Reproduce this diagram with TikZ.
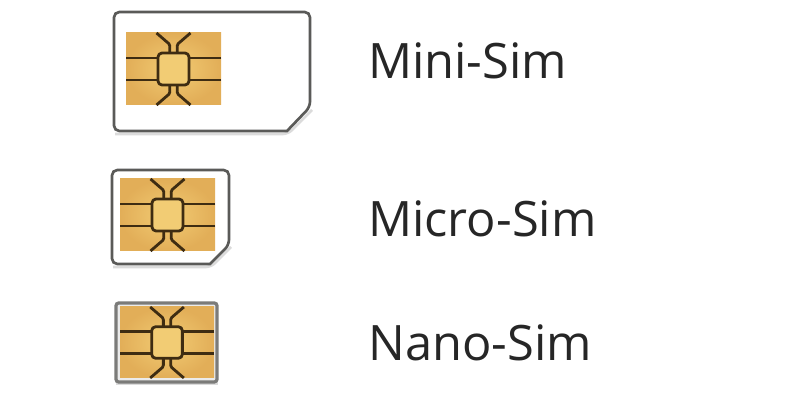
\documentclass[tikz,border=0pt]{standalone}
\usepackage{fontspec}
\setmainfont{Open Sans}
\definecolor{goldmid}{HTML}{F2CC74}
\definecolor{goldedge}{HTML}{E2AE58}
\definecolor{chipline}{HTML}{3E2C12}
\definecolor{cardline}{HTML}{5A5A58}
\tikzset{
  card/.style={draw=cardline,line width=2pt,fill=white,rounded corners=4pt},
  cardshadow/.style={draw=black!14,line width=2pt,rounded corners=4pt},
  simlabel/.style={anchor=west,inner sep=0pt,font=\fontsize{36.6pt}{40pt}\selectfont,text=black!85},
  contact/.style={draw=chipline,line width=2.1pt,line cap=butt,line join=round},
  pics/simchip/.style={code={
    \shade[inner color=goldmid,outer color=goldedge] (0,0) rectangle (95,72);
    \draw[contact] (0,25) -- (32,25) (0,47) -- (32,47) (95,25) -- (63,25) (95,47) -- (63,47);
    \draw[contact,rounded corners=1pt] (30.5,0) -- (43.8,11.5) -- (43.8,22) (64.5,0) -- (51.2,11.5) -- (51.2,22);
    \draw[contact,rounded corners=1pt] (30.5,72) -- (43.8,60.5) -- (43.8,50) (64.5,72) -- (51.2,60.5) -- (51.2,50);
    \draw[contact,fill=goldmid,rounded corners=3pt] (32,20) rectangle (63,52);
  }}
}
\begin{document}
\begin{tikzpicture}[x=0.75pt,y=-0.75pt]
  \useasboundingbox[fill=white] (0,0) rectangle (800,416);

  % mini
  \draw[cardshadow] (115,134) -- (288,134) -- (312,110);
  \draw[card] (114,12) -- (310,12) -- (310,107) [sharp corners] -- (287,131) [rounded corners=4pt] -- (114,131) -- cycle;
  \pic[shift={(126,33)}] {simchip};
  \node[simlabel] (mini) at (368,61) {Mini-Sim};

  % micro
  \draw[cardshadow] (113,267) -- (211,267) -- (231,247);
  \draw[card] (112,170) -- (229,170) -- (229,245) [sharp corners] -- (210,264) [rounded corners=4pt] -- (112,264) -- cycle;
  \pic[shift={(120,179)}] {simchip};
  \node[simlabel] (micro) at (368,219) {Micro-Sim};

  % nano
  \draw[cardshadow] (116,384) -- (218,384);
  \draw[card,draw=cardline!80,fill=black!8,line width=2.4pt,rounded corners=2pt] (116,303) rectangle (217,382);
  \pic[shift={(120,307)},xscale=0.99,yscale=0.986] {simchip};
  \node[simlabel] (nano) at (368,343) {Nano-Sim};
\end{tikzpicture}
\end{document}
